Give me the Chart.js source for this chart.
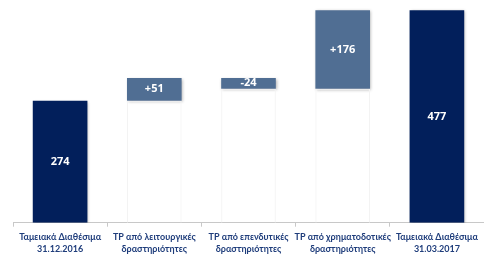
<!DOCTYPE html>
<html>
<head>
<meta charset="utf-8">
<script src="https://cdn.jsdelivr.net/npm/chart.js@4"></script>
<style>
  html, body { margin: 0; padding: 0; background: #fff; }
  #wrap { width: 484px; height: 259px; }
</style>
</head>
<body>
<div id="wrap"><canvas id="chartTameiaka"></canvas></div>
<script>
const categories = [
  ['Ταμειακά Διαθέσιμα', '31.12.2016'],
  ['TP από λειτουργικές', 'δραστηριότητες'],
  ['TP από επενδυτικές', 'δραστηριότητες'],
  ['TP από χρηματοδοτικές', 'δραστηριότητες'],
  ['Ταμειακά Διαθέσιμα', '31.03.2017']
];
const values = [274, 51, -24, 176, 477];
const isTotal = [true, false, false, false, true];
const valueLabels = ['274', '+51', '-24', '+176', '477'];

const navy = '#021f5b';
const steel = '#506e93';

// base (invisible) and visible part of each waterfall bar
const base = [];
const shown = [];
let running = 0;
values.forEach((v, i) => {
  if (isTotal[i]) {
    base.push(0);
    shown.push(v);
    running = v;
  } else {
    const next = running + v;
    base.push(Math.min(running, next));
    shown.push(Math.abs(v));
    running = next;
  }
});

const barLabels = {
  id: 'barLabels',
  afterDatasetsDraw(chart) {
    const c = chart.ctx;
    const meta = chart.getDatasetMeta(1);
    c.save();
    c.fillStyle = '#ffffff';
    c.font = 'bold 11px "Open Sans", sans-serif';
    c.textAlign = 'center';
    c.textBaseline = 'middle';
    meta.data.forEach((bar, i) => {
      const y = (bar.y + bar.base) / 2;
      c.fillText(valueLabels[i], bar.x, y);
    });
    c.restore();
  }
};

const barShadow = {
  id: 'barShadow',
  beforeDatasetDraw(chart, args) {
    if (args.index !== 1) return;
    const c = chart.ctx;
    c.save();
    c.shadowColor = 'rgba(0,0,0,0.3)';
    c.shadowBlur = 3;
    c.shadowOffsetX = 1;
    c.shadowOffsetY = 1;
  },
  afterDatasetDraw(chart, args) {
    if (args.index !== 1) return;
    chart.ctx.restore();
  }
};

new Chart(document.getElementById('chartTameiaka'), {
  type: 'bar',
  data: {
    labels: categories,
    datasets: [
      {
        label: 'base',
        data: base,
        backgroundColor: 'rgba(255,255,255,0)',
        borderColor: '#f3f3f3',
        borderWidth: 1,
        barPercentage: 0.58,
        categoryPercentage: 1
      },
      {
        label: 'value',
        data: shown,
        backgroundColor: isTotal.map(t => t ? navy : steel),
        borderWidth: 0,
        barPercentage: 0.58,
        categoryPercentage: 1
      }
    ]
  },
  options: {
    responsive: true,
    maintainAspectRatio: false,
    animation: false,
    layout: { padding: { left: 13, right: 0, top: 0, bottom: 0 } },
    plugins: {
      legend: { display: false },
      tooltip: { enabled: false }
    },
    scales: {
      x: {
        stacked: true,
        grid: {
          drawOnChartArea: false,
          drawTicks: true,
          tickLength: 4,
          color: '#c8c8c8',
          offset: true
        },
        border: { color: '#c8c8c8' },
        ticks: {
          color: '#1f3d7b',
          font: { family: 'Lato, sans-serif', size: 9, weight: 'bold', lineHeight: 1.35 },
          padding: 4,
          maxRotation: 0,
          autoSkip: false
        }
      },
      y: {
        stacked: true,
        display: false,
        min: 0,
        max: 500
      }
    }
  },
  plugins: [barShadow, barLabels]
});
</script>
</body>
</html>
